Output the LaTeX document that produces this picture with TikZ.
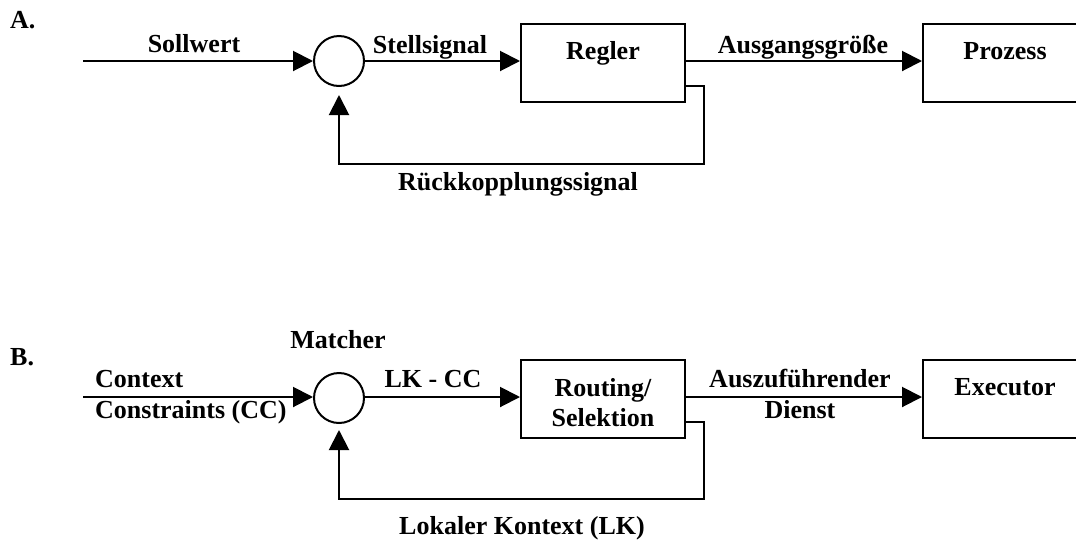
\documentclass[tikz,border=0pt]{standalone}
\usepackage{fontspec}
\setmainfont{Liberation Serif}
\usetikzlibrary{arrows.meta,calc}
\begin{document}
\begin{tikzpicture}[x=1pt,y=-1pt,
  lbl/.style={font=\fontsize{26}{30}\selectfont\bfseries, inner sep=0pt, anchor=base},
  lbll/.style={lbl, anchor=base west},
  blk/.style={draw, line width=2pt, minimum width=164pt, minimum height=78pt, inner sep=0pt},
  sum/.style={draw, circle, line width=2pt, minimum size=50pt, inner sep=0pt},
  sig/.style={line width=2pt, -{Triangle[length=20pt,width=20pt]}},
]
\useasboundingbox (0,0) rectangle (1076,539);

% ---------- A: classic control loop ----------
\node[lbll] (titA) at (10,28) {A.};
\coordinate (inA) at (83,61);
\node[sum] (sumA) at (339,61) {};
\node[blk] (regA) at (603,63) {};
\node[blk] (procA) at (1005,63) {};
\node[lbl] (regAt) at (603,59) {Regler};
\node[lbl] (procAt) at (1005,59) {Prozess};

\draw[sig] (inA) -- (sumA.west);
\draw[sig] (sumA.east) -- (sumA.east -| regA.west);
\draw[sig] (sumA.east -| regA.east) -- (sumA.east -| procA.west);
\coordinate (fbA1) at (704,86);
\coordinate (fbA2) at (704,164);
\draw[sig, shorten >=8pt] (regA.east |- fbA1) -- (fbA1) -- (fbA2) -- (fbA2 -| sumA.south) -- (sumA.south);

\node[lbl] (sollw) at (194,52) {Sollwert};
\node[lbl] (stell) at (430,53) {Stellsignal};
\node[lbl] (ausg) at (803,53) {Ausgangsgröße};
\node[lbl] (rueck) at (518,190) {Rückkopplungssignal};

% ---------- B: context-based service selection ----------
\node[lbll] (titB) at (10,365) {B.};
\coordinate (inB) at (83,397);
\node[sum] (sumB) at (339,398) {};
\node[blk] (regB) at (603,398.5) {};
\node[blk] (execB) at (1005,398.5) {};
\node[lbl] (regBt1) at (603,396) {Routing/};
\node[lbl] (regBt2) at (603,426) {Selektion};
\node[lbl] (execBt) at (1005,395) {Executor};
\node[lbl] (match) at (338,348) {Matcher};

\draw[sig] (inB) -- (inB -| sumB.west);
\draw[sig] (inB -| sumB.east) -- (inB -| regB.west);
\draw[sig] (inB -| regB.east) -- (inB -| execB.west);
\coordinate (fbB1) at (704,422);
\coordinate (fbB2) at (704,499);
\draw[sig, shorten >=6pt] (regB.east |- fbB1) -- (fbB1) -- (fbB2) -- (fbB2 -| sumB.south) -- (sumB.south);

\node[lbll] (cc1) at (95,387) {Context};
\node[lbll] (cc2) at (95,418) {Constraints (CC)};
\node[lbl] (lkcc) at (433,387) {LK - CC};
\node[lbl] (dien1) at (800,387) {Auszuführender};
\node[lbl] (dien2) at (800,418) {Dienst};
\node[lbl] (lok) at (522,534) {Lokaler Kontext (LK)};
\end{tikzpicture}
\end{document}
